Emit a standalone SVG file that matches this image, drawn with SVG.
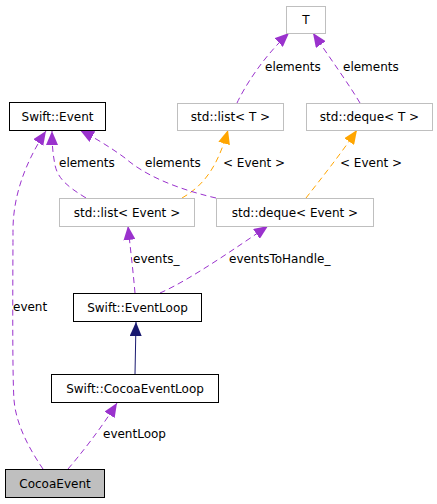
<svg xmlns="http://www.w3.org/2000/svg" width="437" height="504" viewBox="0 0 437 504">
<style>
text{font-family:"DejaVu Sans","Liberation Sans",sans-serif;font-size:12px;fill:#000}
.n text{text-anchor:middle}
.bk{fill:#fff;stroke:#000;stroke-width:1}
.gr{fill:#fff;stroke:#bfbfbf;stroke-width:1}
.cur{fill:#bfbfbf;stroke:#000;stroke-width:1}
.p{fill:none;stroke:#9a32cd;stroke-width:1;stroke-dasharray:6,4;marker-end:url(#ap)}
.o{fill:none;stroke:#ffa500;stroke-width:1;stroke-dasharray:6,4;marker-end:url(#ao)}
.b{fill:none;stroke:#191970;stroke-width:1;marker-end:url(#ab)}
</style>
<defs>
<marker id="ap" markerUnits="userSpaceOnUse" viewBox="0 0 14 12" refX="14" refY="6" markerWidth="14" markerHeight="12" orient="auto"><path d="M0,0 L14,6 L0,12 z" fill="#9a32cd"/></marker>
<marker id="ao" markerUnits="userSpaceOnUse" viewBox="0 0 14 12" refX="14" refY="6" markerWidth="14" markerHeight="12" orient="auto"><path d="M0,0 L14,6 L0,12 z" fill="#ffa500"/></marker>
<marker id="ab" markerUnits="userSpaceOnUse" viewBox="0 0 14 12" refX="14" refY="6" markerWidth="14" markerHeight="12" orient="auto"><path d="M0,0 L14,6 L0,12 z" fill="#191970"/></marker>
</defs>
<rect width="437" height="504" fill="#fff"/>
<g id="connectors">
<path class="p" d="M237,103 C244,88 262,58 289,33"/>
<path class="p" d="M360,103 C350,86 330,58 313,33"/>
<path class="o" d="M182,198 C205,185 218,165 228,130"/>
<path class="o" d="M306,198 C320,180 340,155 357,130"/>
<path class="p" d="M86,198 C70,188 58,180 55,165 C53,155 52,145 52,131"/>
<path class="p" d="M216,198 C190,192 150,180 125,158 C110,147 95,138 80,130"/>
<path class="p" d="M135,293 C133,270 130,245 128,226"/>
<path class="p" d="M160,293 C190,280 240,245 268,226"/>
<path class="b" d="M135,374 L136,322"/>
<path class="p" d="M68,469 C80,455 100,430 117,403"/>
<path class="p" d="M43,469 C30,450 16,425 14,400 C12,370 13,260 13,230 C13,190 30,155 46,131"/>
<text x="265" y="71">elements</text>
<text x="343" y="71">elements</text>
<text x="223" y="167">&lt; Event &gt;</text>
<text x="340" y="167">&lt; Event &gt;</text>
<text x="59" y="167">elements</text>
<text x="145" y="167">elements</text>
<text x="133" y="263">events_</text>
<text x="229" y="263">eventsToHandle_</text>
<text x="13" y="311">event</text>
<text x="103" y="438">eventLoop</text>
</g>
<g id="T" class="n"><rect class="gr" x="286.5" y="6.5" width="39" height="27"/><text x="306" y="24">T</text></g>
<g id="std_list_T" class="n"><rect class="gr" x="177.5" y="103.5" width="106" height="27"/><text x="230.5" y="121">std::list&lt; T &gt;</text></g>
<g id="std_deque_T" class="n"><rect class="gr" x="306.5" y="103.5" width="126" height="27"/><text x="369.5" y="121">std::deque&lt; T &gt;</text></g>
<g id="Swift_Event" class="n"><rect class="bk" x="9.5" y="102.5" width="96" height="28"/><text x="57.5" y="121">Swift::Event</text></g>
<g id="std_list_Event" class="n"><rect class="gr" x="59.5" y="198.5" width="135" height="28"/><text x="127" y="217">std::list&lt; Event &gt;</text></g>
<g id="std_deque_Event" class="n"><rect class="gr" x="216.5" y="198.5" width="157" height="28"/><text x="295" y="217">std::deque&lt; Event &gt;</text></g>
<g id="Swift_EventLoop" class="n"><rect class="bk" x="73.5" y="293.5" width="128" height="28"/><text x="137.5" y="312">Swift::EventLoop</text></g>
<g id="Swift_CocoaEventLoop" class="n"><rect class="bk" x="51.5" y="374.5" width="167" height="28"/><text x="135" y="393">Swift::CocoaEventLoop</text></g>
<g id="CocoaEvent" class="n"><rect class="cur" x="5.5" y="469.5" width="99" height="28"/><text x="55" y="488">CocoaEvent</text></g>
</svg>
